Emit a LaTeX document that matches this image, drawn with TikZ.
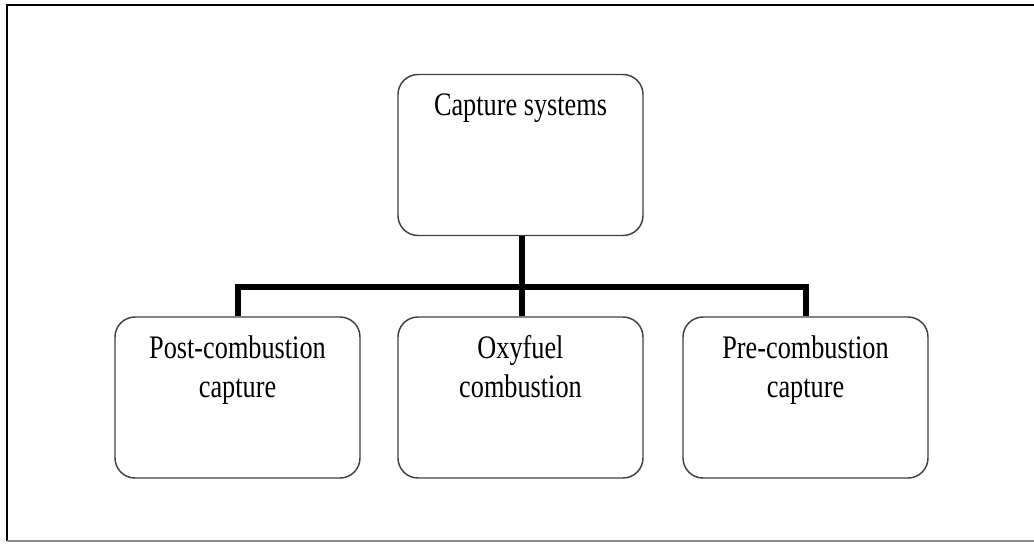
\documentclass[tikz,border=0pt]{standalone}
\usepackage{fontspec}
\setmainfont{Liberation Serif}
\usepackage{graphicx}
\newcommand\stretchtext[1]{\scalebox{1}[1.25]{\begin{tabular}[t]{@{}c@{}}#1\end{tabular}}}
\begin{document}
\begin{tikzpicture}[x=0.75pt,y=-0.75pt,
  box/.style={draw=black!75, line width=1.1pt, rounded corners=15pt, minimum width=183.75pt, minimum height=120.75pt, inner sep=0pt},
  lbl/.style={inner sep=0pt, anchor=base, font=\fontsize{19.7}{23.4}\selectfont},
  conn/.style={draw=black, line width=4.5pt, line join=miter},
  frame/.style={draw=black, line width=1.5pt}]
\useasboundingbox (0,0) rectangle (1034,543);
% outer frame
\draw[frame] (7,541) -- (7,5) -- (1040,5);
\draw[draw=black!45, line width=0.8pt] (7,541) -- (1040,541);
% boxes
\node[box] (top)  at (520.5,155) {};
\node[box] (post) at (237.5,397.5) {};
\node[box] (oxy)  at (520.5,397.5) {};
\node[box] (pre)  at (805.5,397.5) {};
% labels
\node[lbl] (ltop)  at (520.5,115) {\stretchtext{Capture systems}};
\node[lbl] (lpost) at (237.5,358) {\stretchtext{Post-combustion\\capture}};
\node[lbl] (loxy)  at (520.5,358) {\stretchtext{Oxyfuel\\combustion}};
\node[lbl] (lpre)  at (805.5,358) {\stretchtext{Pre-combustion\\capture}};
% connectors
\coordinate (j) at (521.5,287);
\draw[conn] ([xshift=0.75pt]top.south) -- ([xshift=0.75pt]oxy.north);
\draw[conn] (post.north) |- (j) -| (pre.north);
\end{tikzpicture}
\end{document}
